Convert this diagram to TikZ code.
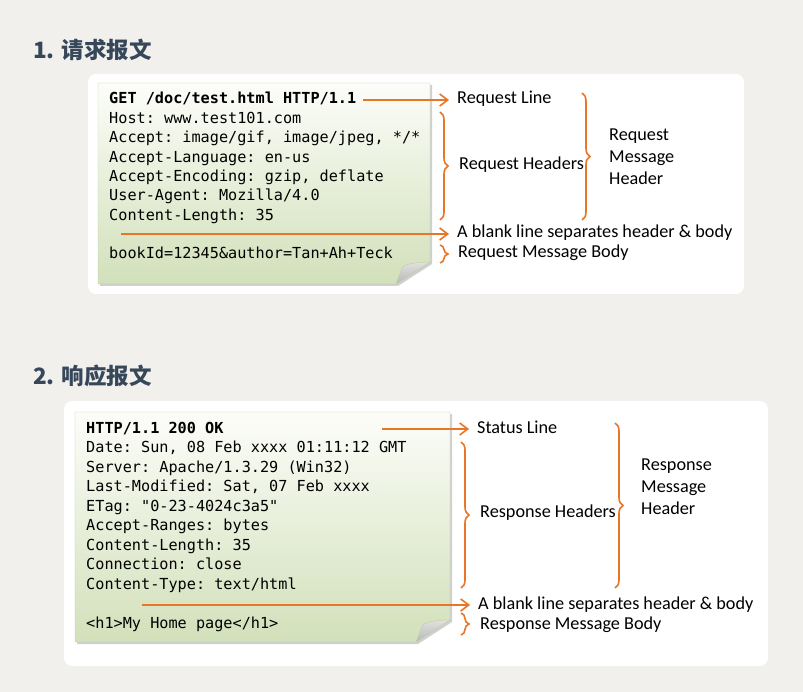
\documentclass[tikz,border=0pt]{standalone}
\usepackage{fontspec}
\setmainfont{Carlito}
\setmonofont{DejaVu Sans Mono}
\newfontfamily\cjk{Noto Sans CJK SC}
\usetikzlibrary{arrows.meta,decorations.pathreplacing}
\tikzset{>={Straight Barb[length=8pt,width=12pt]}}
\definecolor{pagebg}{RGB}{241,240,237}
\definecolor{headblue}{RGB}{55,71,90}
\definecolor{orangeline}{RGB}{232,118,38}
\definecolor{notetop}{RGB}{252,253,249}
\definecolor{notebot}{RGB}{210,224,186}
\definecolor{noteline}{RGB}{190,206,164}
\newcommand{\drawnote}[4]{% left, top, right, bottom
  \fill[black!30,opacity=.6] (#1+2,#2+2) -- (#3+2,#2+2) -- (#3+2,#4-20) -- (#3-32,#4+2) -- (#1+2,#4+2) -- cycle;
  \shade[top color=notetop,bottom color=notebot,draw=noteline] (#1,#2) -- (#3,#2) -- (#3,#4-22) -- (#3-34,#4) -- (#1,#4) -- cycle;
  \shade[top color=black!12,bottom color=black!28,draw=noteline] (#3,#4-22) .. controls (#3-14,#4-22) and (#3-26,#4-20) .. (#3-28,#4-16) .. controls (#3-30,#4-10) and (#3-32,#4-5) .. (#3-34,#4) -- cycle;
}

\begin{document}
\begin{tikzpicture}[x=1pt,y=-1pt,
  code/.style={font=\fontsize{15.2}{18}\ttfamily,anchor=west,inner sep=0pt,text height=11pt,text depth=3pt},
  codeb/.style={code,font=\fontsize{15.2}{18}\ttfamily\bfseries},
  lbl/.style={font=\fontsize{18.2}{21}\selectfont,anchor=west,inner sep=0pt,text height=12pt,text depth=4pt},
  lbllines/.style={font=\fontsize{18.2}{22}\selectfont,anchor=west,inner sep=0pt,align=left},
  head/.style={font=\fontsize{22.5}{26}\cjk\bfseries,text=headblue,anchor=west,inner sep=0pt},
  arr/.style={->,orangeline,line width=1.6pt,shorten >=8pt},
  brc/.style={orangeline,line width=1.6pt,decorate,decoration={brace,amplitude=8pt}},
  panel/.style={fill=white,rounded corners=8pt}]
  \useasboundingbox (0,0) rectangle (803,692);
  \fill[pagebg] (0,0) rectangle (803,692);

  % request
  \node[head] (reqtitle) at (33,50) {1. 请求报文};
  \fill[panel] (88,74) rectangle (744,294);
  \drawnote{98}{83}{430}{284}
  \node[codeb] (req0) at (109,100) {GET /doc/test.html HTTP/1.1};
  \foreach \t [count=\i] in {{Host: www.test101.com},{Accept: image/gif, image/jpeg, */*},
      {Accept-Language: en-us},{Accept-Encoding: gzip, deflate},{User-Agent: Mozilla/4.0},
      {Content-Length: 35}}
    \node[code] (req\i) at (109,100+19.4*\i) {\t};
  \node[code] (reqbody) at (109,255) {bookId=12345\&author=Tan+Ah+Teck};
  \coordinate (reqblank) at (121,234);

  \node[lbl] (reqline) at (457,100) {Request Line};
  \node[lbl] (reqhdr) at (459,166) {Request Headers};
  \node[lbl] (reqsep) at (457,234) {A blank line separates header \& body};
  \node[lbl] (reqbodylbl) at (458,254) {Request Message Body};
  \node[lbllines] (reqmsg) at (609,157) {Request\\Message\\Header};
  \draw[arr] ([xshift=7pt]req0.east) -- (reqline.west);
  \draw[arr] (reqblank) -- (reqsep.west);
  \draw[brc] (440,112) -- (440,220);
  \draw[brc] (582,93) -- (582,220);
  \draw[brc] (440,245) -- (440,263);

  % response
  \node[head] (restitle) at (33,376) {2. 响应报文};
  \fill[panel] (64,401) rectangle (768,666);
  \drawnote{75}{412}{450}{642}
  \node[codeb] (res0) at (86,429) {HTTP/1.1 200 OK};
  \foreach \t [count=\i] in {{Date: Sun, 08 Feb xxxx 01:11:12 GMT},{Server: Apache/1.3.29 (Win32)},
      {Last-Modified: Sat, 07 Feb xxxx},{ETag: "0-23-4024c3a5"},{Accept-Ranges: bytes},
      {Content-Length: 35},{Connection: close},{Content-Type: text/html}}
    \node[code] (res\i) at (86,429+19.5*\i) {\t};
  \node[code] (resbody) at (86,624) {<h1>My Home page</h1>};
  \coordinate (resstart) at (382,429);
  \coordinate (resblank) at (142,605);

  \node[lbl] (status) at (477,429) {Status Line};
  \node[lbl] (reshdr) at (480,513) {Response Headers};
  \node[lbl] (ressep) at (478,605) {A blank line separates header \& body};
  \node[lbl] (resbodylbl) at (480,625) {Response Message Body};
  \node[lbllines] (resmsg) at (641,487) {Response\\Message\\Header};
  \draw[arr] (resstart) -- (status.west);
  \draw[arr] (resblank) -- (ressep.west);
  \draw[brc] (461,442) -- (461,588);
  \draw[brc] (615,423) -- (615,588);
  \draw[brc] (461,613) -- (461,635);
\end{tikzpicture}
\end{document}
